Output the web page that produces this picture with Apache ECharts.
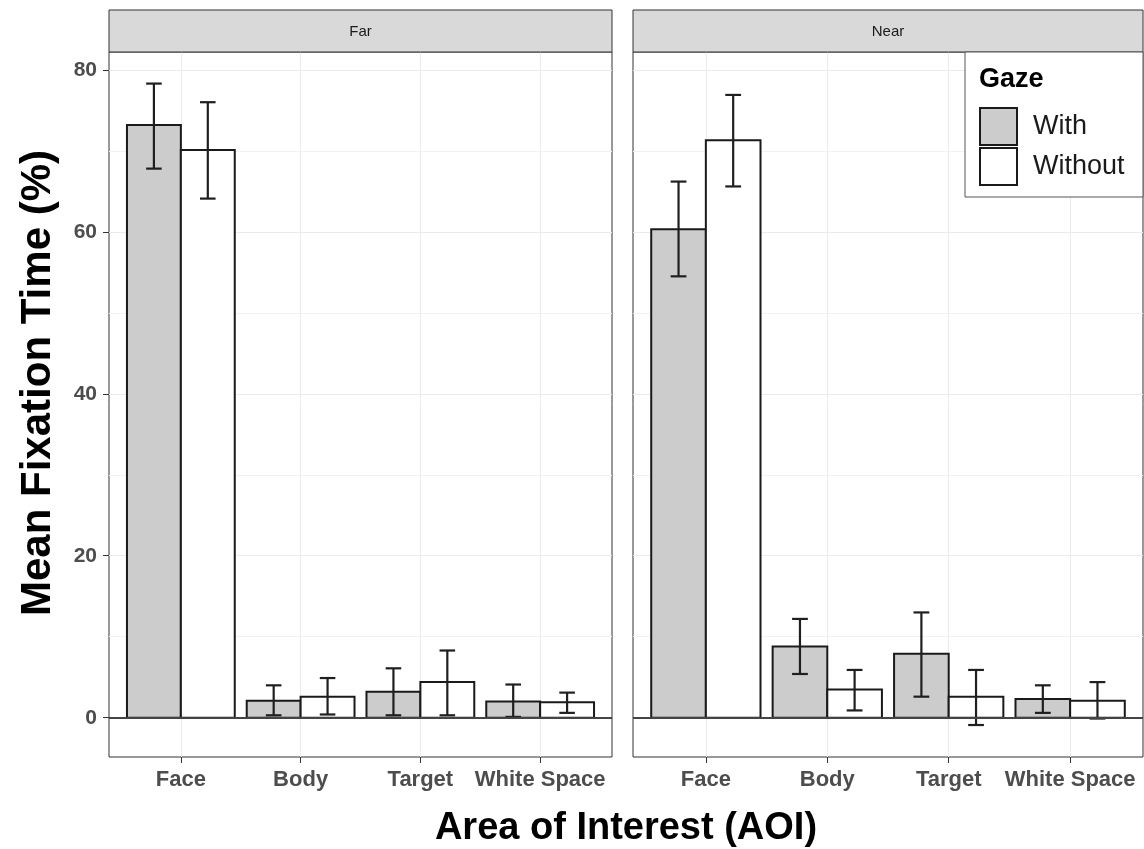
<!DOCTYPE html>
<html>
<head>
<meta charset="utf-8">
<title>Mean Fixation Time</title>
<script src="https://cdn.jsdelivr.net/npm/echarts@6.0.0/dist/echarts.min.js"></script>
<style>
html, body { margin: 0; padding: 0; background: #fff; }
#main { width: 1144px; height: 849px; }
</style>
</head>
<body>
<div id="main"></div>
<script>
// AOI categories, same in both facets
var aoi = ['Face', 'Body', 'Target', 'White Space'];
var panels = ['Far', 'Near'];
var gaze = ['With', 'Without'];

// mean fixation time (%)
var farWith = [73.2, 2.1, 3.2, 2.0];
var farWithout = [70.1, 2.6, 4.4, 1.9];
var nearWith = [60.3, 8.8, 7.9, 2.3];
var nearWithout = [71.3, 3.5, 2.6, 2.1];

// error bar ends
var farWithLow = [67.8, 0.3, 0.3, 0.1];
var farWithHigh = [78.3, 4.0, 6.1, 4.1];
var farWithoutLow = [64.1, 0.4, 0.3, 0.6];
var farWithoutHigh = [76.0, 4.9, 8.3, 3.1];
var nearWithLow = [54.5, 5.4, 2.6, 0.6];
var nearWithHigh = [66.2, 12.2, 13.0, 4.0];
var nearWithoutLow = [65.6, 0.9, -0.9, -0.1];
var nearWithoutHigh = [76.9, 5.9, 5.9, 4.4];

var yTicks = [0, 20, 40, 60, 80];
var yMinor = [10, 30, 50, 70];

var FONT = '"Liberation Sans", Arial, sans-serif';
var DODGE = 0.225; // half of the dodge width
var fills = ['#cccccc', '#ffffff'];

function barData(vals) {
	var d = [];
	for (var i = 0; i < vals.length; i++) d.push([i, vals[i]]);
	return d;
}
function errData(lowW, highW, lowO, highO) {
	var d = [];
	for (var i = 0; i < aoi.length; i++) {
		d.push([i, -1, lowW[i], highW[i]]);
		d.push([i, 1, lowO[i], highO[i]]);
	}
	return d;
}

function barItem(side) {
	return function(params, api) {
		var x = api.value(0) + side * DODGE;
		var p0 = api.coord([x - DODGE, api.value(1)]);
		var p1 = api.coord([x + DODGE, 0]);
		return {
			type : 'rect',
			shape : { x : p0[0], y : p0[1], width : p1[0] - p0[0], height : p1[1] - p0[1] },
			style : { fill : api.visual('color'), stroke : '#1a1a1a', lineWidth : 2 }
		};
	};
}
function errItem(params, api) {
	var x = api.value(0) + api.value(1) * DODGE;
	var lo = api.coord([x, api.value(2)]);
	var hi = api.coord([x, api.value(3)]);
	var w = api.size([0.065, 0])[0];
	var st = { stroke : '#1f1f1f', lineWidth : 2.2 };
	return {
		type : 'group',
		children : [
			{ type : 'line', shape : { x1 : lo[0], y1 : lo[1], x2 : hi[0], y2 : hi[1] }, style : st },
			{ type : 'line', shape : { x1 : hi[0] - w, y1 : hi[1], x2 : hi[0] + w, y2 : hi[1] }, style : st },
			{ type : 'line', shape : { x1 : lo[0] - w, y1 : lo[1], x2 : lo[0] + w, y2 : lo[1] }, style : st }
		]
	};
}

// panel rectangles (pixels)
var grids = [
	{ left : 109, right : 532, top : 52, bottom : 92 },
	{ left : 633, right : 1, top : 52, bottom : 92 }
];

var xAxes = [], yAxes = [], series = [], graphics = [];
var values = [[farWith, farWithout], [nearWith, nearWithout]];
var errs = [
	errData(farWithLow, farWithHigh, farWithoutLow, farWithoutHigh),
	errData(nearWithLow, nearWithHigh, nearWithoutLow, nearWithoutHigh)
];

for (var g = 0; g < 2; g++) {
	grids[g].show = true;
	grids[g].borderColor = '#333';
	grids[g].borderWidth = 1;
	grids[g].backgroundColor = '#fff';
	grids[g].containLabel = false;
	grids[g].outerBoundsMode = 'none';

	xAxes.push({
		type : 'value', gridIndex : g, min : -0.6, max : 3.6, position : 'bottom',
		axisLine : { show : false, onZero : false },
		axisTick : { show : true, length : 6, customValues : [0, 1, 2, 3], lineStyle : { color : '#333' } },
		axisLabel : {
			customValues : [0, 1, 2, 3], margin : 12,
			fontSize : 22, fontWeight : 'bold', color : '#4d4d4d', fontFamily : FONT,
			formatter : function(v) { return aoi[v]; }
		},
		splitLine : { show : true, lineStyle : { color : '#ebebeb', width : 1 } }
	});
	// main y axis: labels only on the left panel
	yAxes.push({
		type : 'value', gridIndex : g, min : -4.85, max : 82.2, position : 'left',
		axisLine : { show : false, onZero : false },
		axisTick : { show : g == 0, length : 6, customValues : yTicks, lineStyle : { color : '#333' } },
		axisLabel : {
			show : g == 0, customValues : yTicks, margin : 12,
			fontSize : 21, fontWeight : 'bold', color : '#4d4d4d', fontFamily : FONT
		},
		splitLine : { show : true, lineStyle : { color : '#ebebeb', width : 1 } }
	});
	// minor grid lines
	yAxes.push({
		type : 'value', gridIndex : g, min : -4.85, max : 82.2, position : 'right',
		axisLine : { show : false, onZero : false },
		axisTick : { show : false, customValues : yMinor },
		axisLabel : { show : false },
		splitLine : { show : true, lineStyle : { color : '#f2f2f2', width : 1 } }
	});

	for (var k = 0; k < 2; k++) {
		var s = {
			type : 'custom', name : gaze[k],
			xAxisIndex : g, yAxisIndex : g * 2,
			itemStyle : { color : fills[k] },
			encode : { x : 0, y : 1 },
			renderItem : barItem(k == 0 ? -1 : 1),
			data : barData(values[g][k])
		};
		if (k == 1) {
			s.markLine = {
				silent : true, symbol : 'none', label : { show : false },
				lineStyle : { color : '#444', width : 2, type : 'solid' },
				data : [ { yAxis : 0 } ]
			};
		}
		series.push(s);
	}
	series.push({
		type : 'custom', name : 'err' + g,
		xAxisIndex : g, yAxisIndex : g * 2,
		encode : { x : 0, y : [2, 3] },
		renderItem : errItem, z : 3,
		data : errs[g]
	});

	// facet strip
	var sl = grids[g].left, sw = 1144 - grids[g].right - grids[g].left;
	graphics.push({
		type : 'rect', z : 1,
		shape : { x : sl, y : 10, width : sw, height : 42 },
		style : { fill : '#d9d9d9', stroke : '#333', lineWidth : 1 }
	});
	graphics.push({
		type : 'text', z : 2, x : sl + sw / 2, y : 32,
		style : { text : panels[g], fontSize : 15, fill : '#1a1a1a', fontFamily : FONT,
			textAlign : 'center', textVerticalAlign : 'middle' }
	});
}

// legend box + title
graphics.push({
	type : 'rect', z : 3,
	shape : { x : 965, y : 52, width : 178, height : 145 },
	style : { fill : '#fff', stroke : '#555', lineWidth : 1 }
});
graphics.push({
	type : 'text', z : 4, x : 979, y : 80,
	style : { text : 'Gaze', fontSize : 27, fontWeight : 'bold', fill : '#000', fontFamily : FONT,
		textAlign : 'left', textVerticalAlign : 'middle' }
});
// axis titles
graphics.push({
	type : 'text', x : 38, y : 383, rotation : Math.PI / 2,
	style : { text : 'Mean Fixation Time (%)', fontSize : 42, fontWeight : 'bold', fill : '#000',
		fontFamily : FONT, textAlign : 'center', textVerticalAlign : 'middle' }
});
graphics.push({
	type : 'text', x : 626, y : 829,
	style : { text : 'Area of Interest (AOI)', fontSize : 38, fontWeight : 'bold', fill : '#000',
		fontFamily : FONT, textAlign : 'center', textVerticalAlign : 'middle' }
});

var option = {
	backgroundColor : '#fff',
	animation : false,
	grid : grids,
	xAxis : xAxes,
	yAxis : yAxes,
	legend : {
		orient : 'vertical', left : 979, top : 107, z : 5, padding : 0,
		itemWidth : 37, itemHeight : 37, itemGap : 1,
		selectedMode : false, icon : 'rect',
		data : [
			{ name : 'With', itemStyle : { color : '#cccccc', borderColor : '#1a1a1a', borderWidth : 2 } },
			{ name : 'Without', itemStyle : { color : '#ffffff', borderColor : '#1a1a1a', borderWidth : 2 } }
		],
		textStyle : { fontSize : 27, color : '#1a1a1a', fontFamily : FONT, padding : [0, 0, 0, 11] }
	},
	graphic : graphics,
	series : series
};

var myChart = echarts.init(document.getElementById('main'));
myChart.setOption(option);
</script>
</body>
</html>
